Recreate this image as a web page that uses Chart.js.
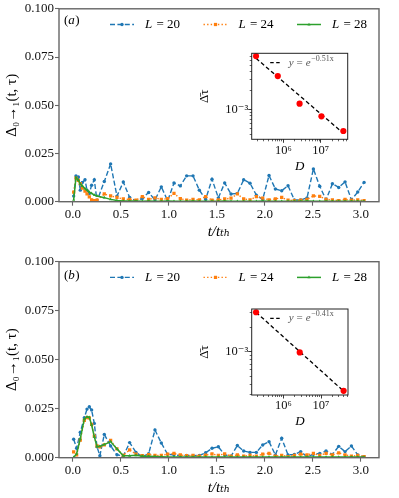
<!DOCTYPE html>
<html><head><meta charset="utf-8">
<script src="https://cdn.jsdelivr.net/npm/chart.js@4.4.1/dist/chart.umd.min.js"></script>
<style>
html,body{margin:0;padding:0;background:#fff;}
#wrap{position:relative;width:399px;height:498px;overflow:hidden;background:#fff;}
#wrap canvas{position:absolute;}
</style></head><body>
<div id="wrap">
<canvas id="mainA" width="399" height="249" style="left:0;top:0"></canvas>
<canvas id="mainB" width="399" height="249" style="left:0;top:249px"></canvas>
<canvas id="insA" width="160" height="130" style="left:195px;top:45px"></canvas>
<canvas id="insB" width="160" height="130" style="left:195px;top:300px"></canvas>
</div>
<script>
// ---------------- data ----------------
const seriesLabels = ['L = 20', 'L = 24', 'L = 28'];

const timeA = [0.007,0.031,0.056,0.076,0.097,0.125,0.146,0.170,0.194,0.222,0.250,
  0.326,0.392,0.458,0.524,0.590,0.656,0.722,0.788,0.854,0.920,
  0.986,1.052,1.118,1.184,1.250,1.316,1.382,1.448,1.514,1.580,
  1.646,1.712,1.778,1.844,1.910,1.976,2.042,2.108,2.174,2.240,
  2.306,2.372,2.438,2.504,2.570,2.636,2.702,2.768,2.834,2.900,
  2.966,3.032];
const blueA = [0.0029,0.0133,0.0128,0.0060,0.0100,0.0114,0.0060,0.0043,0.0085,0.0114,0.0003,
  0.0105,0.0196,0.0029,0.0102,0.0022,0.0005,0.0017,0.0048,0.0009,0.0077,
  0.0005,0.0097,0.0082,0.0134,0.0134,0.0060,0.0012,0.0117,0.0020,0.0097,
  0.0040,0.0043,0.0114,0.0096,0.0034,0.0012,0.0136,0.0066,0.0057,0.0083,
  0.0009,0.0009,0.0020,0.0170,0.0080,0.0010,0.0093,0.0074,0.0103,0.0010,
  0.0050,0.0100];
const orangeA = [0.0050,0.0122,0.0110,0.0094,0.0070,0.0055,0.0040,0.0025,0.0010,0.0005,0.0008,
  0.0040,0.0030,0.0022,0.0014,0.0012,0.0008,0.0026,0.0012,0.0020,0.0012,
  0.0016,0.0043,0.0016,0.0008,0.0012,0.0010,0.0026,0.0008,0.0010,0.0014,
  0.0018,0.0040,0.0014,0.0010,0.0026,0.0018,0.0010,0.0014,0.0022,0.0008,
  0.0006,0.0008,0.0012,0.0030,0.0028,0.0012,0.0010,0.0006,0.0012,0.0008,
  0.0010,0.0006];
const greenA = [0.0010,0.0125,0.0112,0.0092,0.0082,0.0068,0.0060,0.0050,0.0043,0.0035,0.0030,
  0.0021,0.0012,0.0006,0.0004,0.0003,0.0003,0.0002,0.0003,0.0002,0.0002,
  0.0003,0.0002,0.0002,0.0002,0.0003,0.0002,0.0002,0.0002,0.0002,0.0003,
  0.0002,0.0002,0.0002,0.0002,0.0002,0.0003,0.0002,0.0002,0.0002,0.0002,
  0.0002,0.0002,0.0003,0.0002,0.0002,0.0002,0.0002,0.0002,0.0002,0.0002,
  0.0002,0.0002];

const timeB = [0.007,0.038,0.076,0.118,0.146,0.170,0.194,0.222,0.250,0.280,
  0.326,0.392,0.458,0.524,0.590,0.656,0.722,0.788,0.854,0.920,
  0.986,1.052,1.118,1.184,1.250,1.316,1.382,1.448,1.514,1.580,
  1.646,1.712,1.778,1.844,1.910,1.976,2.042,2.108,2.174,2.240,
  2.306,2.372,2.438,2.504,2.570,2.636,2.702,2.768,2.834,2.900,
  2.966,3.032];
const blueB = [0.0094,0.0048,0.0130,0.0204,0.0248,0.0260,0.0243,0.0175,0.0056,0.0010,
  0.0119,0.0060,0.0015,0.0008,0.0077,0.0027,0.0005,0.0020,0.0141,0.0075,
  0.0017,0.0015,0.0010,0.0012,0.0010,0.0012,0.0025,0.0048,0.0056,0.0014,
  0.0008,0.0062,0.0034,0.0027,0.0027,0.0065,0.0082,0.0014,0.0099,0.0014,
  0.0017,0.0031,0.0005,0.0017,0.0022,0.0034,0.0017,0.0058,0.0031,0.0060,
  0.0014,0.0005];
const orangeB = [0.0030,0.0015,0.0090,0.0190,0.0205,0.0203,0.0170,0.0110,0.0060,0.0055,
  0.0065,0.0088,0.0045,0.0012,0.0040,0.0018,0.0010,0.0016,0.0012,0.0012,
  0.0018,0.0022,0.0014,0.0010,0.0012,0.0008,0.0013,0.0019,0.0012,0.0020,
  0.0008,0.0014,0.0008,0.0012,0.0008,0.0018,0.0022,0.0008,0.0012,0.0006,
  0.0012,0.0018,0.0014,0.0022,0.0012,0.0022,0.0014,0.0025,0.0014,0.0008,
  0.0012,0.0005];
const greenB = [0.0002,0.0020,0.0098,0.0197,0.0209,0.0206,0.0167,0.0107,0.0056,0.0058,
  0.0067,0.0082,0.0045,0.0010,0.0010,0.0012,0.0008,0.0007,0.0006,0.0005,
  0.0004,0.0004,0.0003,0.0004,0.0003,0.0003,0.0004,0.0003,0.0003,0.0004,
  0.0003,0.0003,0.0003,0.0004,0.0003,0.0003,0.0004,0.0003,0.0003,0.0003,
  0.0003,0.0003,0.0004,0.0003,0.0003,0.0003,0.0004,0.0003,0.0003,0.0003,
  0.0003,0.0003];

const xTickValues = [0, 0.5, 1.0, 1.5, 2.0, 2.5, 3.0];
const xTickLabels = ['0.0', '0.5', '1.0', '1.5', '2.0', '2.5', '3.0'];
const yTickValues = [0, 0.025, 0.05, 0.075, 0.1];
const yTickLabels = ['0.000', '0.025', '0.050', '0.075', '0.100'];
const xTitle = 't/tₜₕ';
const yTitle = 'Δ₀→₁(t, τ)';

// insets
const insetDA = [184756, 705432, 2704156, 10400600, 40116600];
const insetValsA = [7.06e-3, 3.40e-3, 1.24e-3, 7.8e-4, 4.56e-4];
const fitDA = [184756, 40116600];
const fitValsA = [6.5e-3, 4.2e-4];
const insetDB = [184756, 2704156, 40116600];
const insetValsB = [3.03e-3, 9.8e-4, 3.33e-4];
const fitDB = [184756, 40116600];
const fitValsB = [3.03e-3, 3.3e-4];
const fitExpA = '−0.51x';
const fitExpB = '−0.41x';
const insetXMajor = [1e6, 1e7];
const insetXMajorLabels = ['10⁶', '10⁷'];
const insetXMinor = [2e5,3e5,4e5,5e5,6e5,7e5,8e5,9e5,2e6,3e6,4e6,5e6,6e6,7e6,8e6,9e6,2e7,3e7,4e7,5e7];
const insetYMajor = [1e-3];
const insetYMajorLabels = ['10⁻³'];
const insetYMinorA = [4e-4,5e-4,6e-4,7e-4,8e-4,9e-4,2e-3,3e-3,4e-3,5e-3,6e-3,7e-3];
const insetYMinorB = [3e-4,4e-4,5e-4,6e-4,7e-4,8e-4,9e-4,2e-3,3e-3];
const insetXTitle = 'D';
const insetYTitle = 'Δ̄τ';

// ---------------- style ----------------
const serif = '"Liberation Serif", "DejaVu Serif", serif';
const colors = ['#1f77b4', '#ff7f0e', '#2ca02c'];
const dashes = [[5, 2.4], [1.4, 2.2], []];
const pstyles = ['circle', 'rect', 'triangle'];
const pradii = [1.7, 2.3, 1.8];

function pairs(xs, ys) { return xs.map((x, i) => ({x: x, y: ys[i]})); }

function drawMarker(ctx, style, x, y, r, color) {
  ctx.fillStyle = color; ctx.beginPath();
  if (style === 'rect') { const s = r * Math.SQRT1_2; ctx.rect(x - s, y - s, 2 * s, 2 * s); }
  else if (style === 'triangle') {
    ctx.moveTo(x, y - r); ctx.lineTo(x + r * 0.866, y + r * 0.5); ctx.lineTo(x - r * 0.866, y + r * 0.5); ctx.closePath();
  } else ctx.arc(x, y, r, 0, 2 * Math.PI);
  ctx.fill();
}

const framePlugin = {
  id: 'frame',
  beforeDraw(chart, args, o) {
    if (!o.fill) return;
    const {ctx, chartArea: a} = chart;
    ctx.save(); ctx.fillStyle = o.fill;
    ctx.fillRect(a.left, a.top, a.right - a.left, a.bottom - a.top); ctx.restore();
  },
  afterDraw(chart, args, o) {
    const {ctx, chartArea: a} = chart;
    ctx.save(); ctx.strokeStyle = o.color; ctx.lineWidth = o.width;
    ctx.strokeRect(a.left, a.top, a.right - a.left, a.bottom - a.top); ctx.restore();
  }
};

const panelLegend = {
  id: 'panelLegend',
  afterDraw(chart, args, o) {
    const {ctx, chartArea: a} = chart;
    ctx.save();
    ctx.textBaseline = 'middle'; ctx.textAlign = 'left'; ctx.fillStyle = '#000';
    let tx = a.left + o.tagDx, ty = a.top + o.tagDy;
    ctx.font = '13px ' + serif; ctx.fillText('(', tx, ty); tx += ctx.measureText('(').width;
    ctx.font = 'italic 13px ' + serif; ctx.fillText(o.tag, tx, ty); tx += ctx.measureText(o.tag).width + 0.5;
    ctx.font = '13px ' + serif; ctx.fillText(')', tx, ty);
    chart.data.datasets.forEach((ds, i) => {
      const x0 = a.left + o.x0 + i * o.step, y = a.top + o.dy;
      ctx.strokeStyle = ds.borderColor; ctx.lineWidth = ds.borderWidth;
      ctx.setLineDash(ds.borderDash || []);
      ctx.beginPath(); ctx.moveTo(x0, y); ctx.lineTo(x0 + o.len, y); ctx.stroke();
      ctx.setLineDash([]);
      drawMarker(ctx, ds.pointStyle, x0 + o.len / 2, y, ds.pointRadius, ds.borderColor);
      let lx = x0 + o.len + o.gap;
      ctx.fillStyle = '#000';
      ctx.font = 'italic 13px ' + serif; ctx.fillText(ds.label.charAt(0), lx, y);
      lx += ctx.measureText(ds.label.charAt(0)).width;
      ctx.font = '13px ' + serif; ctx.fillText(ds.label.slice(1), lx + 1, y);
    });
    ctx.restore();
  }
};

const insetLegend = {
  id: 'insetLegend',
  afterDraw(chart, args, o) {
    const {ctx, chartArea: a} = chart;
    const y = a.top + o.dy;
    ctx.save();
    ctx.strokeStyle = '#000'; ctx.lineWidth = 1.3; ctx.setLineDash([3.5, 2.5]);
    ctx.beginPath(); ctx.moveTo(a.left + 18.5, y); ctx.lineTo(a.left + 28.5, y); ctx.stroke();
    ctx.setLineDash([]);
    ctx.fillStyle = '#555'; ctx.textBaseline = 'middle'; ctx.textAlign = 'left';
    let x = a.left + 37;
    ctx.font = 'italic 11px ' + serif; ctx.fillText('y', x, y); x += ctx.measureText('y').width + 3;
    ctx.font = '11px ' + serif; ctx.fillText('=', x, y); x += ctx.measureText('=').width + 3;
    ctx.font = 'italic 11px ' + serif; ctx.fillText('e', x, y); x += ctx.measureText('e').width + 0.5;
    ctx.font = '8px ' + serif; ctx.fillText(o.exp, x, y - 4);
    ctx.restore();
  }
};

function makeMain(id, t, vals, o) {
  const datasets = vals.map((v, i) => ({
    label: seriesLabels[i], data: pairs(t, v),
    borderColor: colors[i], backgroundColor: colors[i],
    borderWidth: i === 2 ? 1.5 : 1.4, borderDash: dashes[i],
    pointStyle: pstyles[i], pointRadius: pradii[i], pointBorderWidth: 0,
    pointBackgroundColor: colors[i], tension: 0, fill: false, order: 3 - i
  }));
  return new Chart(document.getElementById(id), {
    type: 'line',
    data: {datasets: datasets},
    options: {
      responsive: false, animation: false, devicePixelRatio: 1,
      layout: {padding: {left: 0, right: 20, top: o.top, bottom: 0}},
      plugins: {
        legend: {display: false}, tooltip: {enabled: false},
        frame: {color: '#666', width: 1.4},
        panelLegend: {tag: o.tag, tagDx: 5, tagDy: o.tagDy, x0: 51, step: 93.5, len: 24, gap: 11, dy: 15.7}
      },
      scales: {
        x: {
          type: 'linear', min: -0.1458, max: 3.1875, bounds: 'data',
          afterBuildTicks: s => { s.ticks = xTickValues.map(v => ({value: v})); },
          afterFit: s => { s.height = o.xh; },
          ticks: {callback: (v, i) => xTickLabels[i], font: {family: serif, size: 13}, color: '#111',
                  padding: 1.5, maxRotation: 0, autoSkip: false},
          grid: {drawOnChartArea: false, drawTicks: true, tickLength: 4, tickColor: '#666', tickWidth: 1.1},
          border: {display: false},
          title: {display: true, text: xTitle, font: {family: serif, size: 15, style: 'italic'}, color: '#000',
                  padding: {top: 0, bottom: o.xtp}}
        },
        y: {
          type: 'linear', min: 0, max: 0.1, bounds: 'data',
          afterBuildTicks: s => { s.ticks = yTickValues.map(v => ({value: v})); },
          afterFit: s => { s.width = 59; },
          ticks: {callback: (v, i) => yTickLabels[i], font: {family: serif, size: 13}, color: '#111',
                  padding: 1, autoSkip: false},
          grid: {drawOnChartArea: false, drawTicks: true, tickLength: 4, tickColor: '#666', tickWidth: 1.1},
          border: {display: false},
          title: {display: true, text: yTitle, font: {family: serif, size: 15}, color: '#000',
                  padding: {top: 3, bottom: 0}}
        }
      }
    },
    plugins: [framePlugin, panelLegend]
  });
}

function makeInset(id, D, vals, fD, fV, yMin, yMax, yMinor, exp, o) {
  const common = {bounds: 'data', border: {display: false}};
  return new Chart(document.getElementById(id), {
    type: 'line',
    data: {datasets: [
      {label: 'data', data: pairs(D, vals), showLine: false, pointRadius: 3.1, pointBorderWidth: 0,
       pointBackgroundColor: '#ff0000', borderColor: '#ff0000', order: 1},
      {label: 'fit', data: pairs(fD, fV), borderColor: '#000', borderWidth: 1.3, borderDash: [4, 2.6],
       pointRadius: 0, tension: 0, fill: false, order: 2}
    ]},
    options: {
      responsive: false, animation: false, devicePixelRatio: 1,
      layout: {padding: {left: 0, right: o.right, top: o.top, bottom: 0}},
      plugins: {
        legend: {display: false}, tooltip: {enabled: false},
        frame: {color: '#222', width: 1, fill: '#fff'},
        insetLegend: {dy: 9.4, exp: exp}
      },
      scales: {
        x: Object.assign({}, common, {
          type: 'logarithmic', position: 'bottom', min: 1.413e5, max: 5.25e7, weight: 0,
          afterBuildTicks: s => { s.ticks = insetXMajor.map(v => ({value: v})); },
          afterFit: s => { s.height = o.xh; },
          ticks: {callback: (v, i) => insetXMajorLabels[i], font: {family: serif, size: 12.5}, color: '#111',
                  padding: 0, maxRotation: 0, autoSkip: false},
          grid: {drawOnChartArea: false, tickLength: 3.5, tickColor: '#222', tickWidth: 0.9},
          title: {display: true, text: insetXTitle, font: {family: serif, size: 13, style: 'italic'}, color: '#000',
                  padding: {top: 0, bottom: 0.2}}
        }),
        xm: Object.assign({}, common, {
          type: 'logarithmic', position: 'bottom', min: 1.413e5, max: 5.25e7, weight: -1,
          afterBuildTicks: s => { s.ticks = insetXMinor.map(v => ({value: v})); },
          afterFit: s => { s.height = 0; },
          ticks: {display: false, autoSkip: false},
          grid: {drawOnChartArea: false, tickLength: 2, tickColor: '#222', tickWidth: 0.7}
        }),
        y: Object.assign({}, common, {
          type: 'logarithmic', position: 'left', min: yMin, max: yMax, weight: 0,
          afterBuildTicks: s => { s.ticks = insetYMajor.map(v => ({value: v})); },
          afterFit: s => { s.width = 56.7; },
          ticks: {callback: (v, i) => insetYMajorLabels[i], font: {family: serif, size: 12.5}, color: '#111',
                  padding: 0, autoSkip: false},
          grid: {drawOnChartArea: false, tickLength: 3.5, tickColor: '#222', tickWidth: 0.9},
          title: {display: true, text: insetYTitle, font: {family: serif, size: 13}, color: '#000',
                  padding: {top: 2.2, bottom: 0}}
        }),
        ym: Object.assign({}, common, {
          type: 'logarithmic', position: 'left', min: yMin, max: yMax, weight: -1,
          afterBuildTicks: s => { s.ticks = yMinor.map(v => ({value: v})); },
          afterFit: s => { s.width = 0; },
          ticks: {display: false, autoSkip: false},
          grid: {drawOnChartArea: false, tickLength: 2, tickColor: '#222', tickWidth: 0.7}
        })
      }
    },
    plugins: [framePlugin, insetLegend]
  });
}

makeMain('mainA', timeA, [blueA, orangeA, greenA], {top: 5, xh: 47.3, xtp: 8, tag: 'a', tagDy: 11.5});
makeMain('mainB', timeB, [blueB, orangeB, greenB], {top: 12.7, xh: 40.3, xtp: 1, tag: 'b', tagDy: 13.5});
makeInset('insA', insetDA, insetValsA, fitDA, fitValsA, 3.37e-4, 7.8e-3, insetYMinorA, fitExpA, {top: 8.3, right: 7.3, xh: 35.7});
makeInset('insB', insetDB, insetValsB, fitDB, fitValsB, 2.96e-4, 3.32e-3, insetYMinorB, fitExpB, {top: 9, right: 7, xh: 35});
</script>
</body></html>
